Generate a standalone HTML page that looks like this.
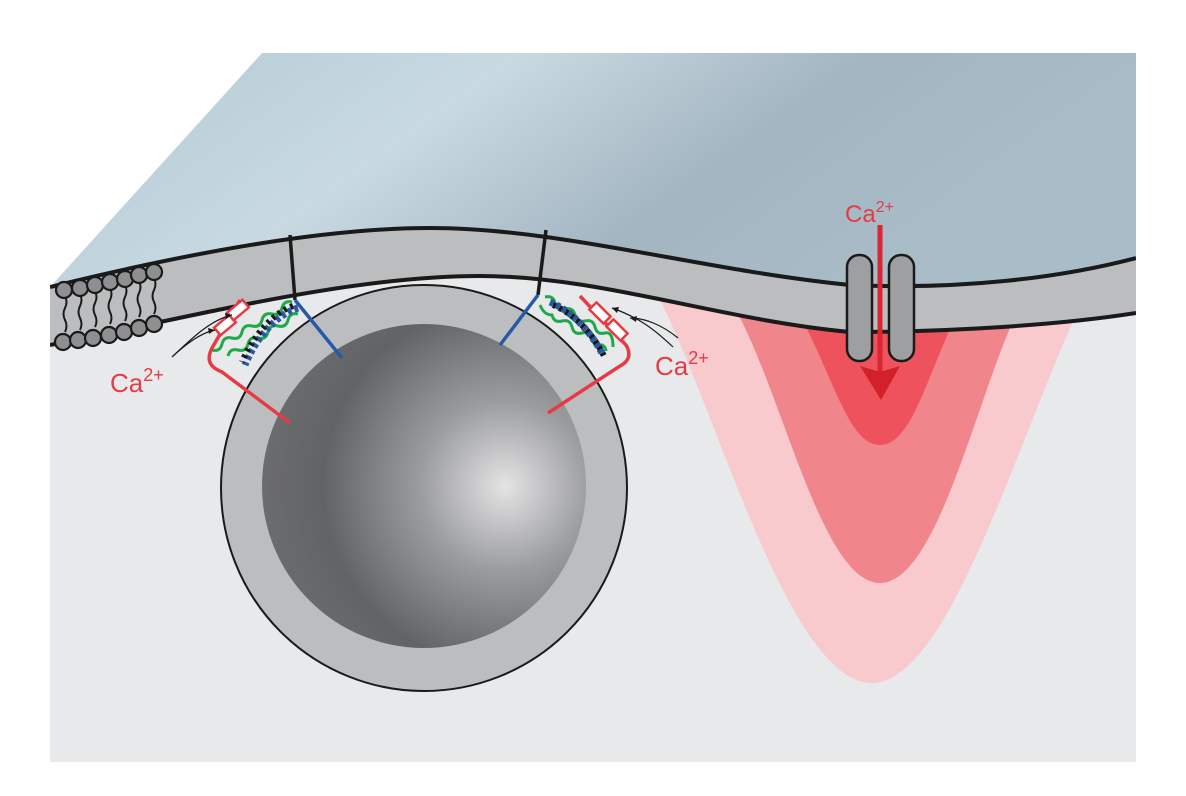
<!DOCTYPE html>
<html><head><meta charset="utf-8"><style>html,body{margin:0;padding:0;background:#fff}svg{display:block}</style></head><body>
<svg width="1186" height="796" viewBox="0 0 1186 796" xmlns="http://www.w3.org/2000/svg" font-family="Liberation Sans, sans-serif">
<defs>
<linearGradient id="sky" x1="0" y1="0" x2="1" y2="0.3">
<stop offset="0" stop-color="#b3cad6"/><stop offset="0.4" stop-color="#c8d9e1"/><stop offset="0.7" stop-color="#a3b5c1"/><stop offset="1" stop-color="#a9bdc9"/></linearGradient>
<radialGradient id="ves" cx="0.75" cy="0.5" r="0.75">
<stop offset="0" stop-color="#e4e4e5"/><stop offset="0.35" stop-color="#9b9c9e"/><stop offset="0.75" stop-color="#626365"/><stop offset="1" stop-color="#6b6c6e"/></radialGradient>
<clipPath id="cyto"><rect x="50" y="53" width="1086" height="709"/></clipPath>
</defs>
<path d="M50 287 C200 250 330 228 430 228 C560 228 700 270 850 285 C960 290 1060 278 1136 258 L1136 762 L50 762 Z" fill="#e8e9eb"/>
<path d="M50 287 C200 250 330 228 430 228 C560 228 700 270 850 285 C960 290 1060 278 1136 258 L1136 53 L262 53 Z" fill="url(#sky)"/>
<g clip-path="url(#cyto)">
<path d="M660 300 C720 420 790 683 872 683 C950 683 1020 430 1083 300 Z" fill="#f8cacd"/>
<path d="M730 300 C780 380 820 583 880 583 C940 583 980 380 1023 300 Z" fill="#f0858c"/>
<path d="M790 300 C830 360 845 445 880 445 C915 445 930 360 965 300 Z" fill="#ee525c"/>
<path d="M50 287 C200 250 330 228 430 228 C560 228 700 270 850 285 C960 290 1060 278 1136 258 L1136 313 C1060 325 950 332 850 332 C720 320 600 276 480 276 C350 276 200 315 50 345 Z" fill="#bcbdbf"/>
<path d="M50 287 C200 250 330 228 430 228 C560 228 700 270 850 285 C960 290 1060 278 1136 258" fill="none" stroke="#1a1a1a" stroke-width="4"/>
<path d="M50 345 C200 315 350 276 480 276 C600 276 720 320 850 332 C950 332 1060 325 1136 313" fill="none" stroke="#1a1a1a" stroke-width="4"/>
</g>
<!-- lipids -->
<g stroke="#1a1a1a" stroke-width="2" fill="none">
<path d="M65 296 q3 6 0 12 q-3 6 0 12 q3 6 0 12 M80 294 q3 6 0 12 q-3 6 0 12 q3 6 0 12 M95 291 q3 6 0 12 q-3 6 0 12 q3 6 0 12 M110 288 q3 6 0 12 q-3 6 0 12 q3 6 0 12 M125 285 q3 6 0 12 q-3 6 0 12 q3 6 0 12 M139 281 q3 6 0 12 q-3 6 0 12 q3 6 0 12 M154 278 q3 6 0 12 q-3 6 0 12 q3 6 0 12"/>
</g>
<g fill="#8e8f91" stroke="#1a1a1a" stroke-width="2.2">
<circle cx="64" cy="290" r="8"/><circle cx="80" cy="288" r="8"/><circle cx="95" cy="285" r="8"/><circle cx="110" cy="282" r="8"/><circle cx="125" cy="279" r="8"/><circle cx="139" cy="275" r="8"/><circle cx="154" cy="272" r="8"/>
<circle cx="63" cy="342" r="8"/><circle cx="78" cy="340" r="8"/><circle cx="93" cy="338" r="8"/><circle cx="109" cy="335" r="8"/><circle cx="124" cy="332" r="8"/><circle cx="139" cy="328" r="8"/><circle cx="154" cy="324" r="8"/>
</g>
<circle cx="424" cy="488" r="203" fill="#bcbdbf" stroke="#1a1a1a" stroke-width="2"/>
<circle cx="424" cy="486" r="162" fill="url(#ves)"/>
<rect x="847" y="255" width="25" height="106" rx="12" fill="#9d9fa1" stroke="#1a1a1a" stroke-width="2.5"/>
<rect x="889" y="255" width="25" height="106" rx="12" fill="#9d9fa1" stroke="#1a1a1a" stroke-width="2.5"/>
<line x1="880" y1="225" x2="880" y2="375" stroke="#d92632" stroke-width="5"/>
<path d="M860 366 L880 372 L900 366 L881 400 Z" fill="#d2202c"/>
<text x="845" y="222" font-size="24" fill="#e53b45">Ca<tspan font-size="16" dy="-10">2+</tspan></text>
<!-- left SNARE -->
<line x1="290" y1="235" x2="295" y2="300" stroke="#1a1a1a" stroke-width="3.5"/>
<line x1="295" y1="300" x2="342" y2="358" stroke="#2759a8" stroke-width="3.5"/>
<path d="M292 302 q-8 -2 -10 6 q-2 8 -10 6 q-8 -2 -10 6 q-2 8 -10 6 q-8 -2 -10 6 q-2 8 -10 6 q-8 -2 -10 6 q-2 8 -10 6 M298 314 q-8 -2 -10 6 q-2 8 -10 6 q-8 -2 -10 6 q-2 8 -10 6 q-8 -2 -10 6 q-2 8 -10 6 q-8 -2 -10 6" fill="none" stroke="#1faa4a" stroke-width="3"/>
<path d="M298 308 C275 315 255 340 245 365" fill="none" stroke="#2759a8" stroke-width="7" stroke-dasharray="4 3"/>
<path d="M293 306 C272 313 252 338 242 362" fill="none" stroke="#1a1a1a" stroke-width="6" stroke-dasharray="3 4"/>
<path d="M240 300 L212 348 C205 362 212 368 222 372 L290 423" fill="none" stroke="#e53b45" stroke-width="3.5"/>
<rect x="215" y="320" width="20" height="10" fill="#fff" stroke="#e53b45" stroke-width="2.5" transform="rotate(-40 225 325)"/>
<rect x="228" y="305" width="20" height="10" fill="#fff" stroke="#e53b45" stroke-width="2.5" transform="rotate(-40 238 310)"/>
<path d="M172 357 C185 345 200 333 215 330 M172 357 C190 340 210 320 232 315" fill="none" stroke="#1a1a1a" stroke-width="1.2"/>
<path d="M215 330 l-7 -2 l1 6 Z M232 315 l-7 -2 l1 6 Z" fill="#1a1a1a"/>
<text x="110" y="392" font-size="26" fill="#e53b45">Ca<tspan font-size="18" dy="-11">2+</tspan></text>
<!-- right SNARE -->
<line x1="546" y1="230" x2="538" y2="295" stroke="#1a1a1a" stroke-width="3.5"/>
<line x1="538" y1="295" x2="500" y2="345" stroke="#2759a8" stroke-width="3.5"/>
<path d="M545 297 q8 -2 10 6 q2 8 10 6 q8 -2 10 6 q2 8 10 6 q8 -2 10 6 q2 8 10 6 q8 -2 8 14 M540 305 q4 10 12 10 q2 8 10 6 q8 -2 10 6 q2 8 10 6 q8 -2 10 6 q2 8 10 6 q4 2 4 6" fill="none" stroke="#1faa4a" stroke-width="3"/>
<path d="M550 302 C570 310 590 330 603 355" fill="none" stroke="#2759a8" stroke-width="7" stroke-dasharray="4 3"/>
<path d="M553 305 C573 313 593 333 605 358" fill="none" stroke="#1a1a1a" stroke-width="6" stroke-dasharray="3 4"/>
<path d="M580 296 L626 345 C632 355 628 362 620 366 L548 413" fill="none" stroke="#e53b45" stroke-width="3.5"/>
<rect x="590" y="308" width="20" height="10" fill="#fff" stroke="#e53b45" stroke-width="2.5" transform="rotate(45 600 313)"/>
<rect x="607" y="325" width="20" height="10" fill="#fff" stroke="#e53b45" stroke-width="2.5" transform="rotate(45 617 330)"/>
<path d="M673 347 C655 330 640 318 612 308 M678 338 C662 325 645 318 630 318" fill="none" stroke="#1a1a1a" stroke-width="1.2"/>
<path d="M612 308 l7 -1 l-2 6 Z M630 318 l7 -2 l-1 6 Z" fill="#1a1a1a"/>
<text x="655" y="375" font-size="26" fill="#e53b45">Ca<tspan font-size="18" dy="-11">2+</tspan></text>
</svg>
</body></html>
